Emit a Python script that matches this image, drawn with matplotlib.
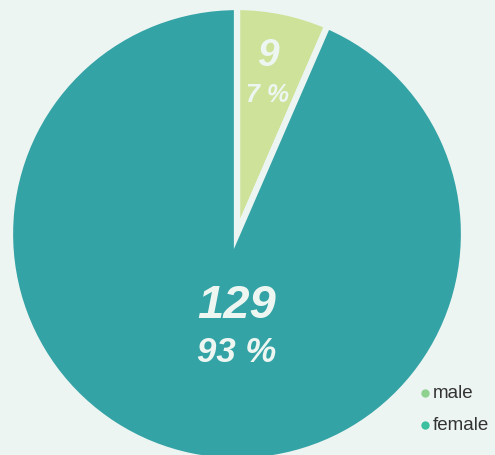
import matplotlib
matplotlib.use("Agg")
import matplotlib.pyplot as plt

categories = ["male", "female"]
values = [9, 129]
wedge_colors = ["#CFE29A", "#34A3A6"]
legend_colors = ["#8FD18F", "#3CC0A0"]
bg = "#EDF5F2"

W, H = 495, 456
fig = plt.figure(figsize=(W / 100, H / 100), dpi=100, facecolor=bg)
ax = fig.add_axes([0, 0, 1, 1])
ax.set_facecolor(bg)

cx, cy, R = 237, H - 235, 227
ax.pie(values, colors=wedge_colors, startangle=90, counterclock=False,
       center=(cx, cy), radius=R, frame=True,
       wedgeprops=dict(edgecolor=bg, linewidth=4.5))
ax.set_xlim(0, W)
ax.set_ylim(0, H)
ax.set_aspect("equal")
ax.axis("off")

total = sum(values)
font = dict(family="Liberation Sans", weight="bold", style="italic", color="#EEF6F2",
            ha="center", va="center")
# male labels
ax.text(268, H - 56, f"{values[0]}", fontsize=28, **font)
ax.text(268, H - 95, f"{round(values[0] / total * 100)} %", fontsize=18, **font)
# female labels
ax.text(237, H - 306, f"{values[1]}", fontsize=34, **font)
ax.text(237, H - 353, f"{round(values[1] / total * 100)} %", fontsize=25, **font)

# legend
for i, (lab, col) in enumerate(zip(categories, legend_colors)):
    y = H - (394 + i * 32)
    ax.scatter([425], [y], s=36, color=col, zorder=5, linewidths=0)
    ax.text(433, y, lab, fontsize=13.5, family="Liberation Sans", color="#333333",
            ha="left", va="center")

fig.savefig("out.png", dpi=100, facecolor=bg)
